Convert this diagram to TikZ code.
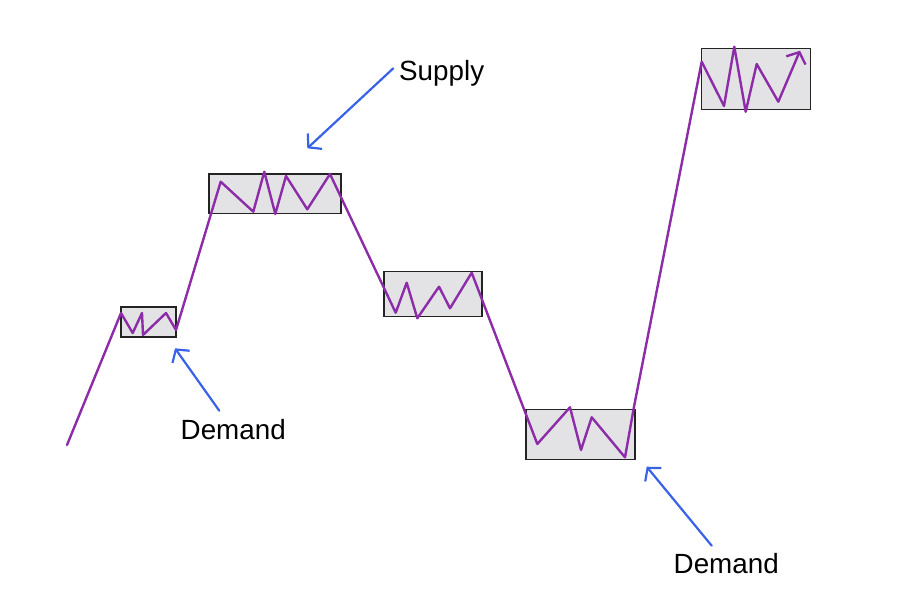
\documentclass[tikz,border=0pt]{standalone}
\usepackage{fontspec}
\setmainfont{Liberation Sans}
\usetikzlibrary{arrows.meta}
\definecolor{pline}{RGB}{140,44,168}
\definecolor{barrow}{RGB}{58,98,232}
\definecolor{zfill}{RGB}{227,227,230}
\definecolor{zdraw}{RGB}{35,35,35}
\begin{document}
\begin{tikzpicture}[x=1pt,y=-1pt,
  zone/.style={draw=zdraw,fill=zfill,line width=1.4pt,rectangle,inner sep=0pt},
  price/.style={draw=pline,line width=2.4pt,line join=round,line cap=round},
  pointer/.style={draw=barrow,line width=2.2pt,line cap=round,line join=round,-{Straight Barb[length=9pt,width=21pt]}},
  lbl/.style={font=\fontsize{27.8}{32}\selectfont,anchor=base west,inner sep=0pt}]
\useasboundingbox (0,0) rectangle (900,603);
\fill[white] (0,0) rectangle (900,603);
% zones
\node[zone,minimum width=55pt,minimum height=30pt] (z1) at (148.5,322) {};
\node[zone,minimum width=131.7pt,minimum height=39.3pt] (z2) at (275,193.7) {};
\node[zone,minimum width=98pt,minimum height=45pt] (z3) at (433,294) {};
\node[zone,minimum width=109pt,minimum height=50pt] (z4) at (580.5,434.3) {};
\node[zone,minimum width=109pt,minimum height=61pt] (z5) at (756,78.8) {};
% price path
\coordinate (p0) at (67,445);
\coordinate (pend) at (800,50.7);
\draw[price] (p0) -- (121,313) -- (132.7,333) -- (142,313) -- (143,335) -- (166,313) -- (176,330)
  -- (220.7,181.7) -- (253.3,211.7) -- (264.3,171.7) -- (275.3,214) -- (286,176) -- (307.3,209.3) -- (330,174)
  -- (395.7,312.7) -- (406.7,282.7) -- (417.3,318.3) -- (439,286.7) -- (450,308.3) -- (471.7,272.7)
  -- (537.3,444) -- (570,407.3) -- (581,450) -- (591.7,417.3) -- (625,457.3) -- (634,406.7)
  -- (701.7,61.7) -- (724,106) -- (734.3,46.7) -- (745.7,111.7) -- (756.7,64) -- (778.3,101.7);
\draw[price,-{Straight Barb[length=9pt,width=21pt]}] (778.3,101.7) -- (pend);
% labels
\node[lbl] (supply) at (399,80) {Supply};
\node[lbl] (dem1) at (180.5,439) {Demand};
\node[lbl] (dem2) at (673.5,573.3) {Demand};
% pointers
\coordinate (s0) at (393.3,68.3);
\coordinate (s1) at (307.3,148.3);
\coordinate (d10) at (219.3,410.7);
\coordinate (d11) at (175,348.3);
\coordinate (d20) at (711.7,545.7);
\coordinate (d21) at (646.7,466.7);
\draw[pointer] (s0) -- (s1);
\draw[pointer] (d10) -- (d11);
\draw[pointer] (d20) -- (d21);
\end{tikzpicture}
\end{document}
